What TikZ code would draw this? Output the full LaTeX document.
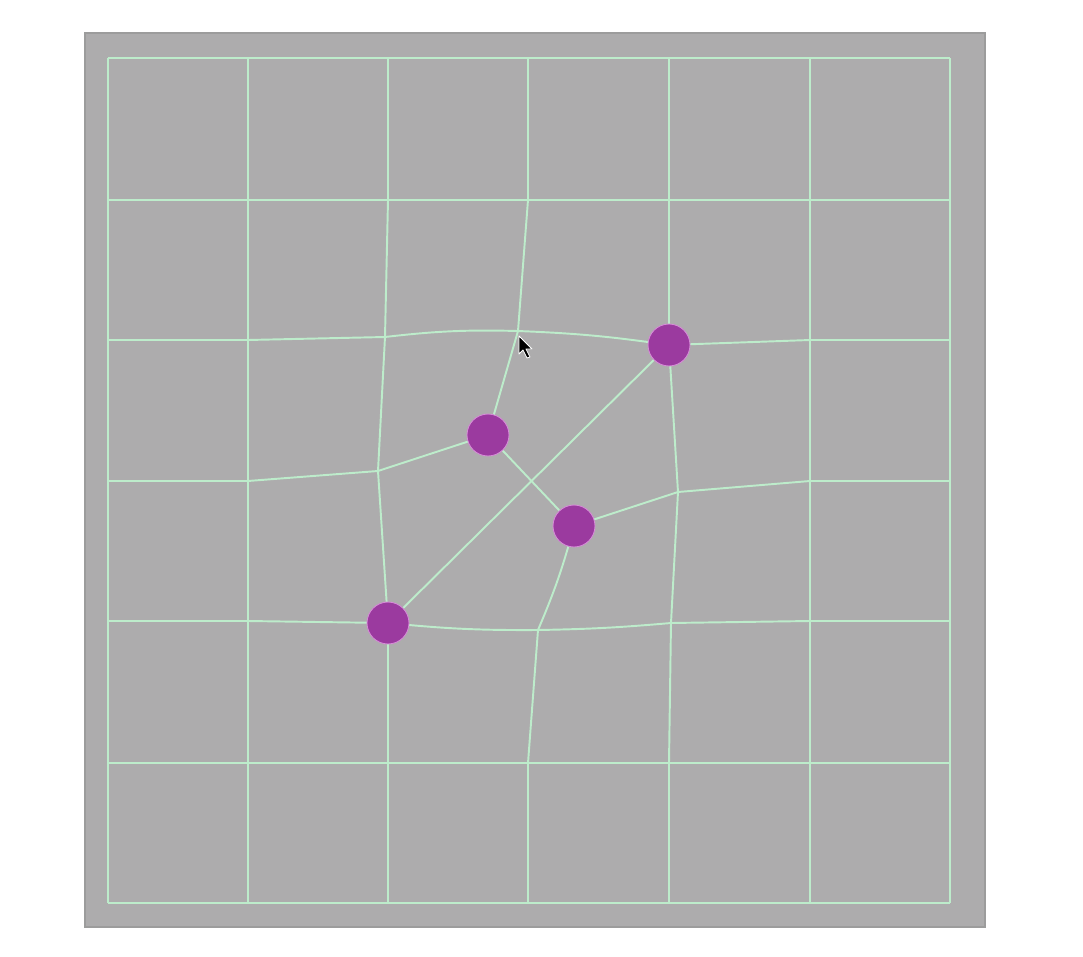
\documentclass[tikz,border=0pt]{standalone}
\usetikzlibrary{calc}
\definecolor{panelgray}{HTML}{ADACAD}
\definecolor{paneledge}{HTML}{9C9C9C}
\definecolor{meshgreen}{HTML}{BDECCB}
\definecolor{handlefill}{HTML}{9B3A9F}
\definecolor{handlerim}{HTML}{D58AD6}
\begin{document}
\begin{tikzpicture}[
  x=0.02cm, y=-0.02cm,
  mesh/.style={draw=meshgreen, line width=1.1pt, line join=round},
  handle/.style={circle, fill=handlefill, draw=handlerim, line width=0.5pt, minimum size=0.84cm, inner sep=0pt},
  cursor/.style={fill=black, draw=white, line width=0.5pt, line join=round}
]
\useasboundingbox (0,0) rectangle (1083,957);
\fill[white] (0,0) rectangle (1083,957);
\draw[fill=panelgray, draw=paneledge, line width=0.8pt] (85,33) rectangle (985,927);
% regular lattice points
\foreach \x [count=\i from 0] in {108,248,388,528,669,810,950}
  \foreach \y [count=\j from 0] in {58,200,340,481,621,763,903}
    \coordinate (v\i\j) at (\x,\y);
% displaced points
\coordinate (v22) at (385,337);
\coordinate (v32) at (518,331);
\coordinate (v42) at (669,345);
\coordinate (v23) at (378,471);
\coordinate (v43) at (678,492);
\coordinate (v24) at (388,623);
\coordinate (v34) at (538,630);
\coordinate (v44) at (671,623);
\coordinate (ha) at (488,435);
\coordinate (hb) at (574,526);
% straight rows and columns
\foreach \k in {0,1,5,6} {
  \draw[mesh] (v0\k) -- (v6\k);
  \draw[mesh] (v\k0) -- (v\k6);
}
% bent rows
\draw[mesh] (v02) -- (v12) -- (v22) to[bend left=4] (v32) to[bend left=3] (v42) -- (v52) -- (v62);
\draw[mesh] (v03) -- (v13) -- (v23) -- (ha);
\draw[mesh] (hb) -- (v43) -- (v53) -- (v63);
\draw[mesh] (v04) -- (v14) -- (v24) to[bend right=3] (v34) to[bend right=2] (v44) -- (v54) -- (v64);
% bent columns
\draw[mesh] (v20) -- (v21) -- (v22) -- (v23) -- (v24) -- (v25) -- (v26);
\draw[mesh] (v30) -- (v31) -- (v32) -- (ha);
\draw[mesh] (hb) to[bend left=4] (v34) -- (v35) -- (v36);
\draw[mesh] (v40) -- (v41) -- (v42) -- (v43) -- (v44) -- (v45) -- (v46);
% links between handles
\draw[mesh] (v24) -- (v42);
\draw[mesh] (ha) -- (hb);
% handles
\node[handle] (tr) at (v42) {};
\node[handle] (hdla) at (ha) {};
\node[handle] (hdlb) at (hb) {};
\node[handle] (bl) at (v24) {};
% pointer
\draw[cursor] (519,336) -- (519,354) -- (523,350) -- (527,358) -- (530,357) -- (526,349) -- (532,349) -- cycle;
\end{tikzpicture}
\end{document}
